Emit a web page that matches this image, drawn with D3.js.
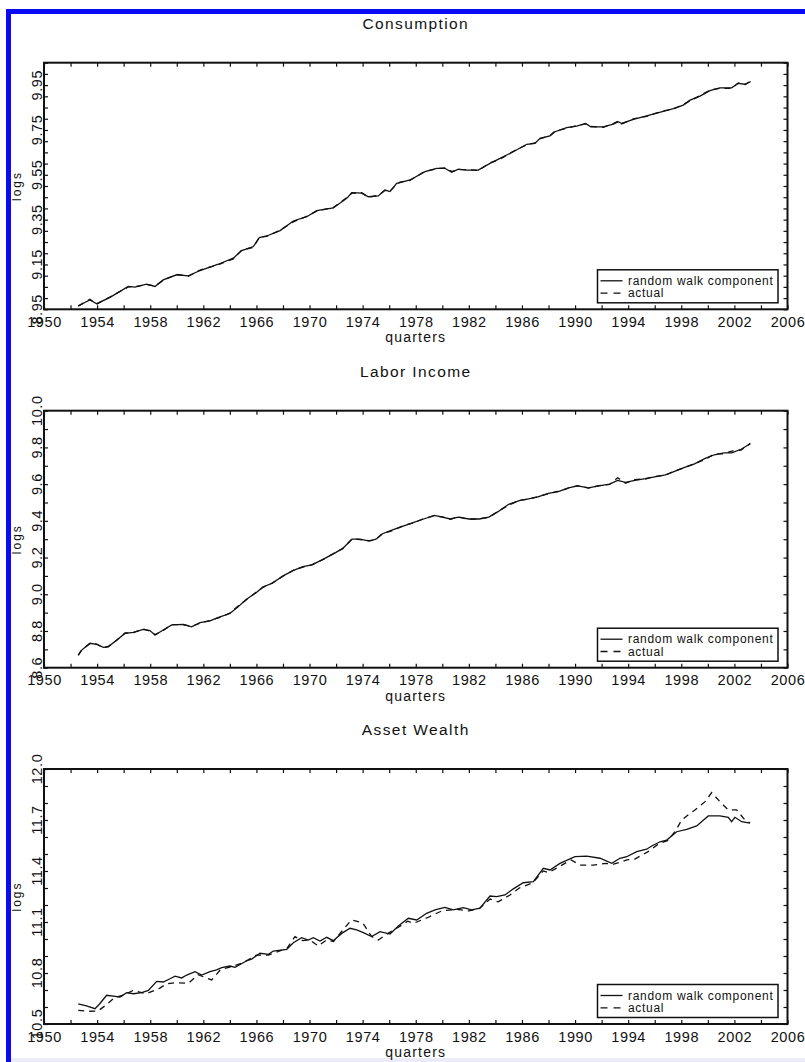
<!DOCTYPE html>
<html>
<head>
<meta charset="utf-8">
<script src="https://cdn.jsdelivr.net/npm/d3@7"></script>
<style>
  html, body { margin: 0; padding: 0; background: #fff; }
  svg { display: block; }
  text { font-family: "Liberation Sans", Arial, sans-serif; fill: #111; }
</style>
</head>
<body>
<svg id="chart" width="805" height="1062"></svg>
<script>
// Three stacked panels: random walk component vs actual (logs), quarterly 1952-2003

// -------------------------------------------------------------
// Shared x axis
// -------------------------------------------------------------
const YEAR_DOMAIN = [1950, 2006];
const yearLabels = [1950, 1954, 1958, 1962, 1966, 1970, 1974, 1978, 1982, 1986, 1990, 1994, 1998, 2002, 2006];
const yearMinor = d3.range(1950, 2007, 2);

// -------------------------------------------------------------
// Consumption
// -------------------------------------------------------------
const consYears = [1952.58, 1953.46, 1953.97, 1954.97, 1956.35, 1956.85, 1957.73, 1958.36, 1958.98, 1959.99,
  1960.87, 1961.75, 1963.13, 1964.26, 1964.89, 1965.77, 1966.22, 1966.77, 1967.78, 1968.78,
  1969.79, 1970.54, 1971.79, 1972.80, 1973.18, 1973.93, 1974.43, 1975.18, 1975.68, 1976.06,
  1976.56, 1976.81, 1977.57, 1978.70, 1979.58, 1980.20, 1980.71, 1981.21, 1981.84, 1982.71,
  1983.59, 1984.35, 1985.35, 1986.36, 1986.98, 1987.36, 1988.11, 1988.49, 1989.37, 1990.12,
  1990.80, 1991.18, 1992.13, 1992.88, 1993.26, 1993.51, 1994.39, 1995.39, 1996.64, 1997.40,
  1998.15, 1998.66, 1999.41, 2000.16, 2000.91, 2001.79, 2002.29, 2002.80, 2003.23];
const consTrend = [8.966, 8.992, 8.975, 9.003, 9.052, 9.049, 9.062, 9.052, 9.081, 9.104,
  9.099, 9.123, 9.151, 9.178, 9.212, 9.230, 9.270, 9.277, 9.301, 9.344,
  9.363, 9.390, 9.402, 9.445, 9.470, 9.468, 9.452, 9.456, 9.482, 9.475,
  9.512, 9.515, 9.527, 9.564, 9.579, 9.579, 9.561, 9.575, 9.571, 9.571,
  9.601, 9.623, 9.653, 9.686, 9.690, 9.713, 9.723, 9.742, 9.760, 9.767,
  9.779, 9.764, 9.764, 9.776, 9.787, 9.779, 9.797, 9.813, 9.833, 9.845,
  9.861, 9.883, 9.901, 9.925, 9.938, 9.938, 9.958, 9.954, 9.966];
const consActual = [8.964, 8.995, 8.973, 9.005, 9.050, 9.051, 9.060, 9.054, 9.079, 9.106,
  9.097, 9.125, 9.149, 9.175, 9.214, 9.226, 9.272, 9.275, 9.303, 9.340,
  9.365, 9.388, 9.404, 9.448, 9.468, 9.470, 9.450, 9.458, 9.480, 9.477,
  9.508, 9.517, 9.525, 9.566, 9.577, 9.581, 9.565, 9.573, 9.573, 9.569,
  9.603, 9.620, 9.655, 9.684, 9.692, 9.711, 9.725, 9.745, 9.758, 9.769,
  9.777, 9.766, 9.762, 9.778, 9.790, 9.777, 9.799, 9.811, 9.835, 9.843,
  9.863, 9.880, 9.903, 9.928, 9.936, 9.935, 9.960, 9.952, 9.968];
const consTickLabels = [8.95, 9.15, 9.35, 9.55, 9.75, 9.95];

// -------------------------------------------------------------
// Labor income
// -------------------------------------------------------------
const labYears = [1952.58, 1952.84, 1953.46, 1953.97, 1954.47, 1954.84, 1955.48, 1956.10, 1956.73, 1957.48,
  1957.98, 1958.36, 1958.98, 1959.62, 1960.49, 1961.12, 1961.75,
  1962.5, 1963.2, 1964.0, 1964.6, 1965.2, 1966.0, 1966.5, 1967.2, 1968.0, 1968.8,
  1969.5, 1970.2, 1971.0, 1971.8, 1972.5, 1973.2, 1973.8, 1974.5, 1975.0, 1975.5,
  1976.2, 1977.0, 1977.8, 1978.6, 1979.4, 1980.0, 1980.6, 1981.2, 1982.0, 1982.8,
  1983.5, 1984.2, 1985.0, 1985.8, 1986.5, 1987.2, 1988.0, 1988.8, 1989.5, 1990.2,
  1991.0, 1991.8, 1992.6, 1993.2, 1993.8, 1994.5, 1995.3, 1996.0, 1996.8, 1997.5,
  1998.2, 1999.0, 1999.8, 2000.5, 2001.2, 2001.8, 2002.5, 2003.2];
const labTrend = [8.669, 8.696, 8.733, 8.727, 8.711, 8.714, 8.751, 8.787, 8.793, 8.809,
  8.802, 8.778, 8.805, 8.833, 8.836, 8.823, 8.845,
  8.855, 8.875, 8.895, 8.93, 8.97, 9.01, 9.04, 9.06, 9.10, 9.13,
  9.15, 9.16, 9.19, 9.22, 9.25, 9.30, 9.30, 9.29, 9.30, 9.33,
  9.35, 9.37, 9.39, 9.41, 9.43, 9.42, 9.41, 9.42, 9.41, 9.41,
  9.42, 9.45, 9.49, 9.51, 9.52, 9.53, 9.55, 9.56, 9.58, 9.59,
  9.58, 9.59, 9.60, 9.62, 9.61, 9.62, 9.63, 9.64, 9.65, 9.67,
  9.69, 9.71, 9.74, 9.76, 9.77, 9.77, 9.79, 9.82];
const labActual = [8.667, 8.698, 8.731, 8.729, 8.709, 8.716, 8.749, 8.789, 8.791, 8.811,
  8.800, 8.780, 8.803, 8.835, 8.834, 8.825, 8.843,
  8.857, 8.873, 8.897, 8.935, 8.968, 9.012, 9.038, 9.062, 9.098, 9.132,
  9.148, 9.162, 9.188, 9.222, 9.248, 9.302, 9.298, 9.292, 9.298, 9.332,
  9.345, 9.372, 9.388, 9.412, 9.428, 9.422, 9.408, 9.422, 9.408, 9.412,
  9.418, 9.452, 9.485, 9.512, 9.518, 9.532, 9.548, 9.562, 9.578, 9.592,
  9.578, 9.592, 9.598, 9.635, 9.605, 9.625, 9.628, 9.642, 9.648, 9.672,
  9.688, 9.712, 9.735, 9.765, 9.765, 9.780, 9.785, 9.822];
const labTickLabels = [8.6, 8.8, 9.0, 9.2, 9.4, 9.6, 9.8, 10.0];

// -------------------------------------------------------------
// Asset wealth (trend and actual read separately, actual wanders more)
// -------------------------------------------------------------
const wTrendYears = [1952.58, 1953.20, 1953.84, 1954.20, 1954.72, 1955.35, 1955.72, 1956.23, 1956.73, 1957.36,
  1957.86, 1958.49, 1958.98, 1959.49, 1959.87, 1960.37, 1960.75, 1961.37, 1961.88, 1962.50,
  1963.00, 1963.38, 1964.01, 1964.39, 1965.27, 1965.64, 1966.27, 1966.90, 1967.27, 1968.28,
  1968.78, 1969.41, 1969.90, 1970.28, 1970.79, 1971.29, 1971.79, 1972.42, 1973.05, 1973.55,
  1974.05, 1974.68, 1975.31, 1976.06, 1976.69, 1977.44, 1978.07, 1978.82, 1979.45, 1980.20,
  1980.83, 1981.58, 1982.21, 1982.84, 1983.59, 1984.10, 1984.72, 1985.35, 1986.10, 1986.86,
  1987.61, 1988.11, 1988.86, 1989.99, 1990.87, 1991.88, 1992.76, 1993.38, 1993.89, 1994.64,
  1995.39, 1995.77, 1996.40, 1996.90, 1997.65, 1998.41, 1999.16, 2000.03, 2000.91, 2001.54,
  2001.79, 2002.04, 2002.55, 2003.18];
const wTrend = [10.619, 10.606, 10.590, 10.619, 10.669, 10.663, 10.659, 10.684, 10.678, 10.684,
  10.698, 10.751, 10.747, 10.766, 10.781, 10.771, 10.788, 10.808, 10.788, 10.808,
  10.818, 10.831, 10.841, 10.833, 10.872, 10.882, 10.916, 10.910, 10.929, 10.939,
  10.978, 11.008, 10.994, 11.008, 10.988, 11.010, 10.990, 11.033, 11.063, 11.053,
  11.037, 11.014, 11.043, 11.029, 11.076, 11.122, 11.112, 11.151, 11.171, 11.186,
  11.171, 11.184, 11.171, 11.181, 11.253, 11.249, 11.259, 11.295, 11.331, 11.337,
  11.416, 11.406, 11.445, 11.484, 11.488, 11.475, 11.445, 11.475, 11.484, 11.514,
  11.528, 11.547, 11.572, 11.582, 11.631, 11.645, 11.665, 11.724, 11.724, 11.716,
  11.690, 11.716, 11.690, 11.681];
const wActualYears = [1952.58, 1953.30, 1954.05, 1954.65, 1955.30, 1956.00, 1956.73, 1957.70, 1958.70, 1959.24,
  1959.87, 1960.87, 1961.60, 1962.63, 1963.30, 1964.00, 1965.00, 1966.00, 1966.90, 1967.60,
  1968.30, 1968.90, 1969.50, 1970.00, 1970.66, 1971.30, 1971.80, 1972.55, 1973.17, 1974.00,
  1974.68, 1975.18, 1975.80, 1976.69, 1977.40, 1977.82, 1978.95, 1979.95, 1981.08, 1982.00,
  1982.80, 1983.60, 1984.20, 1985.10, 1985.80, 1986.80, 1987.60, 1988.00, 1988.90, 1989.70,
  1990.37, 1991.37, 1992.30, 1992.90, 1993.90, 1994.50, 1995.50, 1996.30, 1997.00, 1997.60,
  1998.03, 1998.66, 1999.03, 1999.79, 2000.29, 2000.91, 2001.54, 2002.17, 2002.80, 2003.18];
const wActual = [10.580, 10.575, 10.576, 10.610, 10.655, 10.670, 10.698, 10.678, 10.710, 10.737,
  10.743, 10.739, 10.790, 10.759, 10.820, 10.835, 10.860, 10.905, 10.905, 10.925,
  10.945, 11.014, 10.990, 10.995, 10.959, 10.995, 10.985, 11.057, 11.112, 11.096,
  11.014, 10.994, 11.028, 11.069, 11.105, 11.092, 11.128, 11.165, 11.175, 11.165,
  11.180, 11.235, 11.219, 11.259, 11.300, 11.330, 11.400, 11.390, 11.430, 11.465,
  11.435, 11.435, 11.445, 11.440, 11.465, 11.470, 11.514, 11.560, 11.580, 11.640,
  11.700, 11.739, 11.759, 11.808, 11.861, 11.808, 11.759, 11.759, 11.700, 11.684];
const wTickLabels = [10.5, 10.8, 11.1, 11.4, 11.7, 12.0];

const legendLabels = ["random walk component", "actual"];

// -------------------------------------------------------------
// Layout
// -------------------------------------------------------------
const FRAME_LEFT = 44;
const FRAME_RIGHT = 787.5;
const INK = "#111";

const PANELS = [
  {
    title: "Consumption", top: 62.7, bottom: 309.3, domain: [8.95, 10.05],
    minor: d3.range(0, 23).map(i => 8.95 + i * 0.05), labels: consTickLabels, fmt: d3.format(".2f"),
    trend: d3.zip(consYears, consTrend), actual: d3.zip(consYears, consActual)
  },
  {
    title: "Labor Income", top: 410.7, bottom: 667.7, domain: [8.6, 10.0],
    minor: d3.range(0, 15).map(i => 8.6 + i * 0.1), labels: labTickLabels, fmt: d3.format(".1f"),
    trend: d3.zip(labYears, labTrend), actual: d3.zip(labYears, labActual)
  },
  {
    title: "Asset Wealth", top: 769, bottom: 1024, domain: [10.5, 12.0],
    minor: d3.range(0, 16).map(i => 10.5 + i * 0.1), labels: wTickLabels, fmt: d3.format(".1f"),
    trend: d3.zip(wTrendYears, wTrend), actual: d3.zip(wActualYears, wActual)
  }
];

const svg = d3.select("#chart");

// scanned page edge: blue band on top and left
svg.append("rect").attr("x", 6).attr("y", 9).attr("width", 799).attr("height", 5).attr("fill", "#0a0af5");
svg.append("rect").attr("x", 6).attr("y", 9).attr("width", 5).attr("height", 1053).attr("fill", "#0a0af5");
svg.append("rect").attr("x", 11).attr("y", 1058).attr("width", 794).attr("height", 4).attr("fill", "#ececf8");

const x = d3.scaleLinear().domain(YEAR_DOMAIN).range([FRAME_LEFT, FRAME_RIGHT]);

function drawPanel(p) {
  const y = d3.scaleLinear().domain(p.domain).range([p.bottom, p.top]);
  const g = svg.append("g");
  const tk = 4;

  // inward ticks on all four sides
  const tickGroups = [
    g.append("g").attr("transform", `translate(0,${p.bottom})`)
      .call(d3.axisBottom(x).tickValues(yearMinor).tickSize(-tk).tickFormat("")),
    g.append("g").attr("transform", `translate(0,${p.top})`)
      .call(d3.axisTop(x).tickValues(yearMinor).tickSize(-tk).tickFormat("")),
    g.append("g").attr("transform", `translate(${FRAME_LEFT},0)`)
      .call(d3.axisLeft(y).tickValues(p.minor).tickSize(-tk).tickFormat("")),
    g.append("g").attr("transform", `translate(${FRAME_RIGHT},0)`)
      .call(d3.axisRight(y).tickValues(p.minor).tickSize(-tk).tickFormat(""))
  ];
  tickGroups.forEach(t => {
    t.select(".domain").remove();
    t.selectAll(".tick line").attr("stroke", INK).attr("stroke-width", 1.2);
  });

  // year labels
  const xl = g.append("g").attr("transform", `translate(0,${p.bottom})`)
    .call(d3.axisBottom(x).tickValues(yearLabels).tickSize(0).tickPadding(7.4).tickFormat(d3.format("d")));
  xl.select(".domain").remove();
  xl.selectAll("text")
    .attr("fill", INK)
    .style("font-family", "Liberation Sans, Arial, sans-serif")
    .style("font-size", "14.5px")
    .style("letter-spacing", "0.6px");

  // rotated value labels
  g.selectAll("text.ylab")
    .data(p.labels)
    .join("text")
    .attr("class", "ylab")
    .attr("transform", d => `translate(42,${y(d)}) rotate(-90)`)
    .attr("text-anchor", "middle")
    .style("font-size", "14.5px")
    .style("letter-spacing", "0.6px")
    .text(d => p.fmt(d));

  // series
  const line = d3.line().x(d => x(d[0])).y(d => y(d[1]));
  g.append("path").datum(p.actual)
    .attr("d", line).attr("fill", "none").attr("stroke", INK)
    .attr("stroke-width", 1.3).attr("stroke-dasharray", "6,5");
  g.append("path").datum(p.trend)
    .attr("d", line).attr("fill", "none").attr("stroke", INK)
    .attr("stroke-width", 1.3);

  // frame
  g.append("rect")
    .attr("x", FRAME_LEFT).attr("y", p.top)
    .attr("width", FRAME_RIGHT - FRAME_LEFT).attr("height", p.bottom - p.top)
    .attr("fill", "none").attr("stroke", INK).attr("stroke-width", 2);

  // title + axis names
  g.append("text")
    .attr("x", (FRAME_LEFT + FRAME_RIGHT) / 2).attr("y", p.top - 34.2)
    .attr("text-anchor", "middle")
    .style("font-size", "15.5px").style("letter-spacing", "1.4px")
    .text(p.title);

  g.append("text")
    .attr("transform", `translate(21,${(p.top + p.bottom) / 2}) rotate(-90)`)
    .attr("text-anchor", "middle")
    .style("font-size", "12px").style("letter-spacing", "2px")
    .text("logs");

  g.append("text")
    .attr("x", (FRAME_LEFT + FRAME_RIGHT) / 2).attr("y", p.bottom + 33)
    .attr("text-anchor", "middle")
    .style("font-size", "14px").style("letter-spacing", "1.2px")
    .text("quarters");

  // legend box, lower right
  const lx = FRAME_RIGHT - 190, ly = p.bottom - 39.5;
  const lg = g.append("g").attr("transform", `translate(${lx},${ly})`);
  lg.append("rect").attr("width", 180.5).attr("height", 33)
    .attr("fill", "#fff").attr("stroke", INK).attr("stroke-width", 1.5);
  lg.selectAll("line")
    .data(legendLabels)
    .join("line")
    .attr("x1", 3).attr("x2", 25)
    .attr("y1", (d, i) => 11 + i * 12.3).attr("y2", (d, i) => 11 + i * 12.3)
    .attr("stroke", INK).attr("stroke-width", 1.3)
    .attr("stroke-dasharray", (d, i) => i ? "7,6" : null);
  lg.selectAll("text")
    .data(legendLabels)
    .join("text")
    .attr("x", 30.5).attr("y", (d, i) => 15.2 + i * 12.3)
    .style("font-size", "12px").style("letter-spacing", "0.7px")
    .text(d => d);
}

PANELS.forEach(drawPanel);
</script>
</body>
</html>
